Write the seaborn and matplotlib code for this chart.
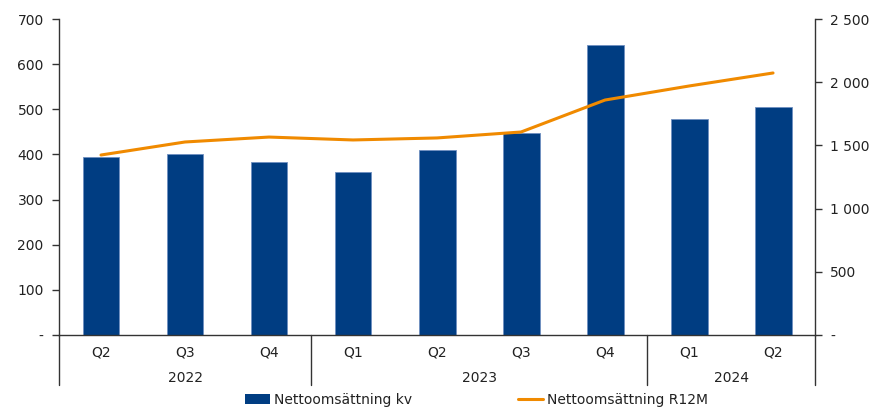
import matplotlib
matplotlib.use("Agg")
import matplotlib.pyplot as plt
import matplotlib.transforms as mtransforms
from matplotlib.lines import Line2D
from matplotlib.patches import Patch
from matplotlib.ticker import FuncFormatter
import seaborn as sns
import pandas as pd

# ---------------------------------------------------------------------------
# Data
# ---------------------------------------------------------------------------
quarters = ["Q2", "Q3", "Q4", "Q1", "Q2", "Q3", "Q4", "Q1", "Q2"]
years = ["2022", "2022", "2022", "2023", "2023", "2023", "2023", "2024", "2024"]
netto_kv = [395, 400, 384, 360, 409, 448, 643, 479, 504]
netto_r12m = [1424, 1527, 1566, 1543, 1559, 1606, 1859, 1970, 2073]

BAR_COLOR = "#003D82"
LINE_COLOR = "#F08A00"
TEXT_COLOR = "#222222"
FS = 10

df = pd.DataFrame({
    "idx": range(len(quarters)),
    "kv": netto_kv,
    "r12m": netto_r12m,
})

sns.set_theme(style="white")
plt.rcParams["font.family"] = ["DejaVu Sans"]
plt.rcParams["font.size"] = FS

fig = plt.figure(figsize=(8.69, 4.09), dpi=100)
ax = fig.add_axes([0.0679, 0.181, 0.870, 0.7725])
ax2 = ax.twinx()

sns.barplot(data=df, x="idx", y="kv", color=BAR_COLOR, width=0.44,
            saturation=1, edgecolor="#6f8fc0", linewidth=0.6, ax=ax, zorder=2)
sns.lineplot(x=df["idx"], y=df["r12m"], color=LINE_COLOR, linewidth=2.2,
             ax=ax2, zorder=3)

ax.set_xlim(-0.5, len(quarters) - 0.5)
ax.set_ylim(0, 700)
ax2.set_ylim(0, 2500)
ax.set_yticks(range(0, 701, 100))
ax2.set_yticks(range(0, 2501, 500))


def fmt(v, pos):
    if v == 0:
        return "-"
    return f"{int(v):,}".replace(",", " ")


ax.yaxis.set_major_formatter(FuncFormatter(fmt))
ax2.yaxis.set_major_formatter(FuncFormatter(fmt))

ax.set_xlabel("")
ax.set_ylabel("")
ax2.set_xlabel("")
ax2.set_ylabel("")
ax.set_xticks([])
ax.grid(False)
ax2.grid(False)

for a in (ax, ax2):
    a.spines["top"].set_visible(False)
    for s in a.spines.values():
        s.set_color("#333333")
        s.set_linewidth(1.0)
ax2.spines["left"].set_visible(False)
ax2.spines["bottom"].set_visible(False)
ax.spines["right"].set_visible(False)

ax.tick_params(axis="y", which="major", direction="out", length=5, width=1,
               color="#333333", labelcolor=TEXT_COLOR, labelsize=FS, left=True, pad=6)
ax2.tick_params(axis="y", which="major", direction="out", length=5, width=1,
                color="#333333", labelcolor=TEXT_COLOR, labelsize=FS, right=True, pad=6)

# category labels below the axis
trans = mtransforms.blended_transform_factory(ax.transData, ax.transAxes)
for i, q in enumerate(quarters):
    ax.text(i, -0.054, q, transform=trans, ha="center", va="center",
            fontsize=FS, color=TEXT_COLOR)

year_groups = {}
for i, y in enumerate(years):
    year_groups.setdefault(y, []).append(i)
for y, ids in year_groups.items():
    ax.text(sum(ids) / len(ids), -0.136, y, transform=trans, ha="center",
            va="center", fontsize=FS, color=TEXT_COLOR)

# group separators
sep_x = [-0.5] + [i - 0.5 for i in range(1, len(years)) if years[i] != years[i - 1]] + [len(years) - 0.5]
for x in sep_x:
    ax.add_line(Line2D([x, x], [0, -0.158], transform=trans, color="#333333",
                       linewidth=1.0, clip_on=False))

handles = [Patch(facecolor=BAR_COLOR, edgecolor="none"),
           Line2D([0], [0], color=LINE_COLOR, linewidth=2.2)]
fig.legend(handles, ["Nettoomsättning kv", "Nettoomsättning R12M"],
           loc="center", bbox_to_anchor=(0.548, 0.022), ncol=2, frameon=False,
           fontsize=FS, columnspacing=7.6, handlelength=1.8, handletextpad=0.3,
           borderpad=0.1, labelcolor=TEXT_COLOR)

fig.savefig("out.png", dpi=100)
